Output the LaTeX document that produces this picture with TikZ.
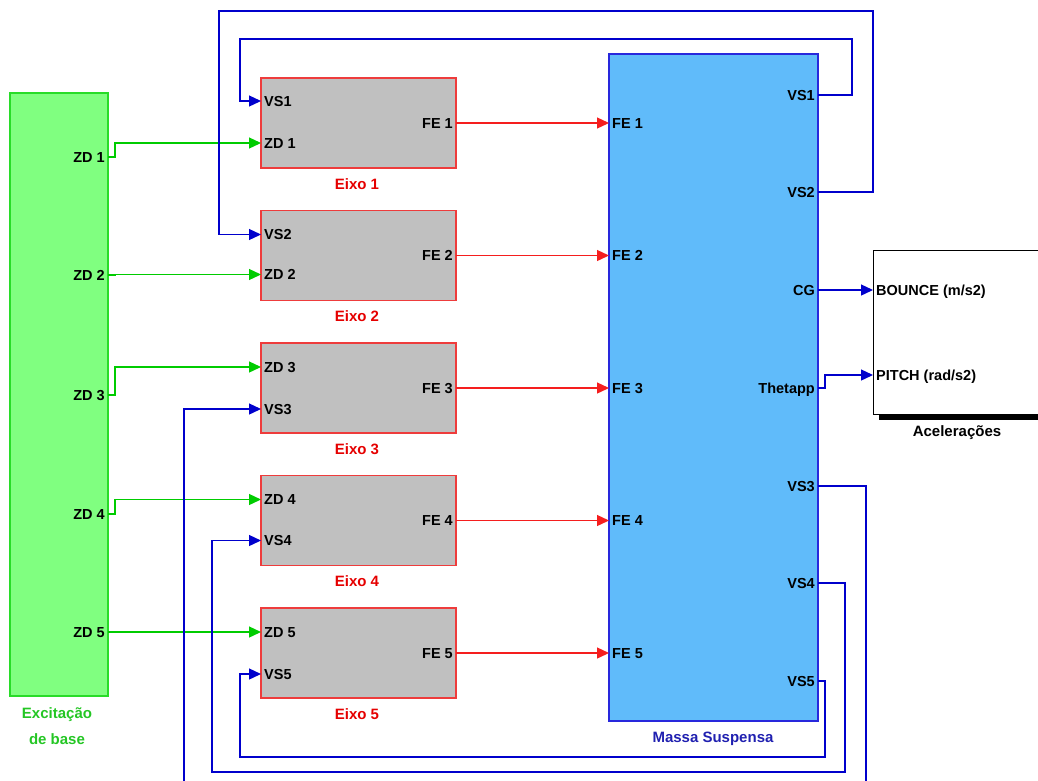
\documentclass[tikz,border=0pt]{standalone}
\usepackage{fontspec}
\setmainfont{Liberation Sans}
\usetikzlibrary{arrows.meta,calc}

\definecolor{exfill}{RGB}{128,255,128}
\definecolor{exline}{RGB}{40,220,40}
\definecolor{eixofill}{RGB}{192,192,192}
\definecolor{eixoline}{RGB}{238,60,60}
\definecolor{massfill}{RGB}{96,187,250}
\definecolor{massline}{RGB}{40,40,220}
\definecolor{wiregreen}{RGB}{0,204,0}
\definecolor{wirered}{RGB}{245,30,30}
\definecolor{wireblue}{RGB}{0,0,204}

\begin{document}
\begin{tikzpicture}[
    x=1pt, y=-1pt,
    >={Triangle[length=12pt,width=11pt]},
    block/.style={
        rectangle,
        line width=1.2pt,
        outer sep=0pt,
        inner sep=0pt
    },
    exblk/.style={block, draw=exline, fill=exfill,
        minimum width=98, minimum height=603},
    eixoblk/.style={block, draw=eixoline, fill=eixofill,
        minimum width=195, minimum height=90},
    massblk/.style={block, draw=massline, fill=massfill,
        minimum width=209, minimum height=667},
    acelblk/.style={block, draw=black, fill=white, line width=1pt},
    port/.style={
        font=\fontsize{14.5}{16}\selectfont\bfseries,
        text height=10pt, text depth=0pt,
        inner sep=3pt
    },
    portin/.style={port, anchor=west},
    portout/.style={port, anchor=east},
    blklabel/.style={
        font=\fontsize{15}{26}\selectfont\bfseries,
        text=#1, align=center
    },
    wire/.style={line width=1.3pt, draw=#1},
    zdwire/.style={wire=wiregreen, ->},
    fewire/.style={wire=wirered, ->},
    vswire/.style={wire=wireblue, ->}
]
\useasboundingbox (0,0) rectangle (1038,780);
\clip (0,0) rectangle (1038,780);

% Excitacao de base
\node[exblk] (ex) at (59,394.5) {};
\node[blklabel={exline!90!black}] (exlab) at (57,726) {Excitação\\de base};

% Massa suspensa
\node[massblk] (ms) at (713.5,387.5) {};
\node[blklabel={massline!80!black}] (mslab) at (713,739) {Massa Suspensa};

% Aceleracoes (scope)
\node[acelblk, anchor=north west, minimum width=200, minimum height=164] (acel) at (873,250) {};
\fill ($(acel.south west)+(6,0)$) rectangle ($(acel.south east)+(0,6)$);
\node[blklabel=black] (acellab) at (957,433) {Acelerações};
\node[portin] (acel-b) at (873,290) {BOUNCE (m/s2)};
\node[portin] (acel-p) at (873,375) {PITCH (rad/s2)};

% outputs of the sprung mass
\foreach \n/\t/\yy in {vs1/VS1/95, vs2/VS2/192, cg/CG/290, th/Thetapp/388,
                       vs3/VS3/486, vs4/VS4/583, vs5/VS5/681}
    \node[portout] (ms-\n) at (818,\yy) {\t};

% axles
\foreach \i/\zd/\vs in {1/20/-22, 2/19/-21, 3/-21/21, 4/-21/20, 5/-21/21} {
    \pgfmathsetmacro\yc{123+132.5*(\i-1)}
    \node[eixoblk] (e\i) at (358.5,\yc) {};
    \node[blklabel=red!90!black] (e\i-lab) at (357,\yc+61) {Eixo \i};
    \node[portin] (e\i-vs) at ($(e\i.west)+(0,\vs)$) {VS\i};
    \node[portin] (e\i-zd) at ($(e\i.west)+(0,\zd)$) {ZD \i};
    \node[portout] (e\i-fe) at (e\i.east) {FE \i};
    \node[portin] (ms-fe\i) at (609,\yc) {FE \i};
    \draw[fewire] (e\i-fe.east) -- (ms-fe\i.west);
}

% base excitation
\foreach \i/\yy in {1/157, 2/275, 3/395, 4/514, 5/632} {
    \node[portout] (ex-zd\i) at (108,\yy) {ZD \i};
    \draw[zdwire] (ex-zd\i.east) -- ++(7,0) |- (e\i-zd.west);
}

% feedback of the velocities
\draw[vswire] (ms-vs1.east) -- ++(34,0) |- (240,39) |- (e1-vs.west);
\draw[vswire] (ms-vs2.east) -- ++(55,0) |- (219,11) |- (e2-vs.west);
\draw[vswire] (ms-vs3.east) -- ++(48,0) |- (184,800) |- (e3-vs.west);
\draw[vswire] (ms-vs4.east) -- ++(27,0) |- (212,772) |- (e4-vs.west);
\draw[vswire] (ms-vs5.east) -- ++(7,0) |- (240,757) |- (e5-vs.west);

% accelerations
\draw[vswire] (ms-cg.east) -- (acel-b.west);
\draw[vswire] (ms-th.east) -- ++(7,0) |- (acel-p.west);

\end{tikzpicture}
\end{document}
